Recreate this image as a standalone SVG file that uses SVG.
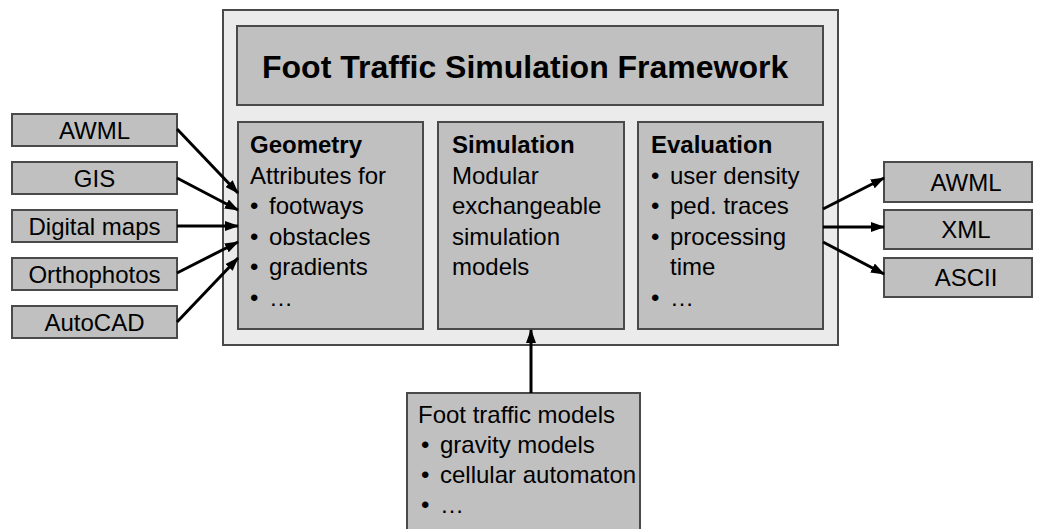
<svg xmlns="http://www.w3.org/2000/svg" width="1042" height="529" viewBox="0 0 1042 529">
<style>
.box{fill:#c0c0c0;stroke:#4a4a4a;stroke-width:2}
.outer{fill:#ebebeb;stroke:#4a4a4a;stroke-width:2}
text{font-family:"Liberation Sans",Arial,sans-serif;font-size:24px;fill:#000}
.c{text-anchor:middle}
.b{font-weight:bold}
.title{font-size:32px;font-weight:bold}
.arr{stroke:#000;stroke-width:3;fill:none;marker-end:url(#ah)}
</style>
<defs>
<marker id="ah" viewBox="0 0 14 10" refX="13" refY="5" markerWidth="14" markerHeight="10" markerUnits="userSpaceOnUse" orient="auto">
<path d="M0,0 L14,5 L0,10 z" fill="#000"/>
</marker>
</defs>
<rect width="1042" height="529" fill="#fff"/>
<g id="framework">
<rect class="outer" x="223" y="10" width="615" height="335"/>
</g>
<g id="title">
<rect class="box" x="237" y="26" width="586" height="79"/>
<text class="title" x="262" y="78">Foot Traffic Simulation Framework</text>
</g>
<g id="geometry">
<rect class="box" x="238" y="122" width="185" height="207"/>
<text x="250" y="153"><tspan class="b">Geometry</tspan><tspan x="250" dy="30.5">Attributes for</tspan><tspan x="250" dy="30.5">•</tspan><tspan x="269">footways</tspan><tspan x="250" dy="30.5">•</tspan><tspan x="269">obstacles</tspan><tspan x="250" dy="30.5">•</tspan><tspan x="269">gradients</tspan><tspan x="250" dy="30.5">•</tspan><tspan x="269">…</tspan></text>
</g>
<g id="simulation">
<rect class="box" x="438" y="122" width="186" height="207"/>
<text x="452" y="153"><tspan class="b">Simulation</tspan><tspan x="452" dy="30.5">Modular</tspan><tspan x="452" dy="30.5">exchangeable</tspan><tspan x="452" dy="30.5">simulation</tspan><tspan x="452" dy="30.5">models</tspan></text>
</g>
<g id="evaluation">
<rect class="box" x="638" y="122" width="185" height="207"/>
<text x="651" y="153"><tspan class="b">Evaluation</tspan><tspan x="651" dy="30.5">•</tspan><tspan x="670">user density</tspan><tspan x="651" dy="30.5">•</tspan><tspan x="670">ped. traces</tspan><tspan x="651" dy="30.5">•</tspan><tspan x="670">processing</tspan><tspan x="670" dy="30.5">time</tspan><tspan x="651" dy="30.5">•</tspan><tspan x="670">…</tspan></text>
</g>
<g id="in-awml"><rect class="box" x="12" y="114" width="165" height="32"/><text class="c" x="94.5" y="139">AWML</text></g>
<g id="in-gis"><rect class="box" x="12" y="162" width="165" height="32"/><text class="c" x="94.5" y="187">GIS</text></g>
<g id="in-maps"><rect class="box" x="12" y="210" width="165" height="32"/><text class="c" x="94.5" y="235">Digital maps</text></g>
<g id="in-ortho"><rect class="box" x="12" y="258" width="165" height="32"/><text class="c" x="94.5" y="283">Orthophotos</text></g>
<g id="in-autocad"><rect class="box" x="12" y="306" width="165" height="32"/><text class="c" x="94.5" y="331">AutoCAD</text></g>
<g id="out-awml"><rect class="box" x="884" y="162" width="148" height="40"/><text class="c" x="966" y="191">AWML</text></g>
<g id="out-xml"><rect class="box" x="884" y="210" width="148" height="39"/><text class="c" x="966" y="238">XML</text></g>
<g id="out-ascii"><rect class="box" x="884" y="258" width="148" height="39"/><text class="c" x="966" y="286">ASCII</text></g>
<g id="models">
<rect class="box" x="407" y="393" width="233" height="145"/>
<text x="418" y="423"><tspan>Foot traffic models</tspan><tspan x="421" dy="30">•</tspan><tspan x="440">gravity models</tspan><tspan x="421" dy="30">•</tspan><tspan x="440">cellular automaton</tspan><tspan x="421" dy="30">•</tspan><tspan x="440">…</tspan></text>
</g>
<g id="connectors">
<line class="arr" x1="177" y1="129" x2="238" y2="193"/>
<line class="arr" x1="177" y1="178" x2="238" y2="210"/>
<line class="arr" x1="177" y1="226" x2="238" y2="226"/>
<line class="arr" x1="177" y1="273" x2="238" y2="242"/>
<line class="arr" x1="177" y1="322" x2="238" y2="258"/>
<line class="arr" x1="823" y1="209" x2="884" y2="178"/>
<line class="arr" x1="823" y1="227" x2="884" y2="227"/>
<line class="arr" x1="823" y1="242" x2="884" y2="274"/>
<line class="arr" x1="531" y1="393" x2="531" y2="330"/>
</g>
</svg>
